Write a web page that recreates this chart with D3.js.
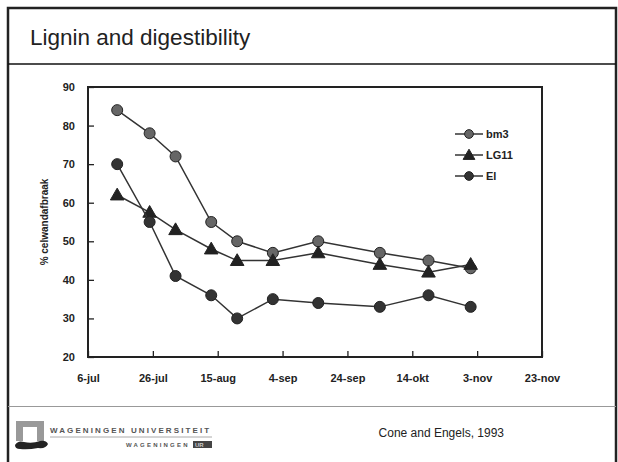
<!DOCTYPE html>
<html><head><meta charset="utf-8">
<script src="https://cdn.jsdelivr.net/npm/d3@7"></script>
<style>body{margin:0;background:#fff}svg{display:block}</style>
</head><body>
<svg id="c" width="618" height="462"></svg>
<script>
const sampleDates = ["1993-07-15","1993-07-25","1993-08-02","1993-08-13","1993-08-21","1993-09-01","1993-09-15","1993-10-04","1993-10-19","1993-11-01"];
const bm3  = [84, 78, 72, 55, 50, 47, 50, 47, 45, 43];
const LG11 = [62, 57.5, 53, 48, 45, 45, 47, 44, 42, 44];
const El   = [70, 55, 41, 36, 30, 35, 34, 33, 36, 33];
const xTickDates  = ["1993-07-06","1993-07-26","1993-08-15","1993-09-04","1993-09-24","1993-10-14","1993-11-03","1993-11-23"];
const xTickLabels = ["6-jul","26-jul","15-aug","4-sep","24-sep","14-okt","3-nov","23-nov"];
const yTicks = [20,30,40,50,60,70,80,90];

const parse = d3.timeParse("%Y-%m-%d");
const svg = d3.select("#c");
const F = "Liberation Sans, Arial, sans-serif";

// slide frame
svg.append("rect").attr("x",8).attr("y",8).attr("width",608).attr("height",460)
  .attr("fill","none").attr("stroke","#222").attr("stroke-width",2.5);
svg.append("line").attr("x1",8).attr("x2",616).attr("y1",64).attr("y2",64).attr("stroke","#111").attr("stroke-width",1.3);
svg.append("line").attr("x1",8).attr("x2",616).attr("y1",406.5).attr("y2",406.5).attr("stroke","#999").attr("stroke-width",1.2);
svg.append("text").attr("x",30).attr("y",45).attr("font-family",F).attr("font-size",22.5).attr("fill","#222").text("Lignin and digestibility");

// plot
const L=88,R=542,T=87,B=357;
const x = d3.scaleTime().domain([parse(xTickDates[0]), parse(xTickDates[xTickDates.length-1])]).range([L,R]);
const y = d3.scaleLinear().domain([20,90]).range([B,T]);

svg.append("rect").attr("x",L).attr("y",T).attr("width",R-L).attr("height",B-T)
  .attr("fill","none").attr("stroke","#222").attr("stroke-width",2);

const xAxis = d3.axisBottom(x).tickValues(xTickDates.map(parse))
  .tickFormat((d,i)=>xTickLabels[i]).tickSizeInner(-6).tickSizeOuter(0).tickPadding(17);
const gx = svg.append("g").attr("transform",`translate(0,${B})`).call(xAxis);
gx.select(".domain").remove();
gx.selectAll(".tick line").attr("stroke","#222").attr("stroke-width",1.3);
gx.selectAll("text").attr("font-family",F).attr("font-size",11).attr("font-weight","bold").attr("fill","#222");

const yAxis = d3.axisLeft(y).tickValues(yTicks).tickSizeInner(-6).tickSizeOuter(0).tickPadding(13);
const gy = svg.append("g").attr("transform",`translate(${L},0)`).call(yAxis);
gy.select(".domain").remove();
gy.selectAll(".tick line").attr("stroke","#222").attr("stroke-width",1.3);
gy.selectAll("text").attr("font-family",F).attr("font-size",11).attr("font-weight","bold").attr("fill","#222");

svg.append("text").attr("transform",`translate(48,${(T+B)/2}) rotate(-90)`).attr("text-anchor","middle")
  .attr("font-family",F).attr("font-size",10).attr("font-weight","bold").attr("fill","#222").text("% celwandafbraak");

const series = [
  {name:"bm3", vals:bm3, shape:"circle", fill:"#666"},
  {name:"LG11", vals:LG11, shape:"triangle", fill:"#222"},
  {name:"El", vals:El, shape:"circle", fill:"#333"}
];
const line = d3.line().x(d=>x(d.date)).y(d=>y(d.v));
const sym = {circle: d3.symbol().type(d3.symbolCircle).size(95), triangle: d3.symbol().type(d3.symbolTriangle).size(80)};
const symL = {circle: d3.symbol().type(d3.symbolCircle).size(60), triangle: d3.symbol().type(d3.symbolTriangle).size(60)};

series.forEach(s=>{
  const pts = sampleDates.map((d,i)=>({date:parse(d), v:s.vals[i]}));
  svg.append("path").datum(pts).attr("d",line).attr("fill","none").attr("stroke","#333").attr("stroke-width",1.5);
  svg.selectAll(null).data(pts).enter().append("path")
    .attr("d",sym[s.shape]).attr("transform",d=>`translate(${x(d.date)},${y(d.v)+(s.shape==="triangle"?1:0)})`)
    .attr("fill",s.fill).attr("stroke","#222").attr("stroke-width",1);
});

// legend
series.forEach((s,i)=>{
  const ly = 134 + i*21;
  svg.append("line").attr("x1",455).attr("x2",483).attr("y1",ly).attr("y2",ly).attr("stroke","#333").attr("stroke-width",1.5);
  svg.append("path").attr("d",symL[s.shape]).attr("transform",`translate(469,${ly+(s.shape==="triangle"?1:0)})`)
    .attr("fill",s.fill).attr("stroke","#222").attr("stroke-width",1);
  svg.append("text").attr("x",486).attr("y",ly+4).attr("font-family",F).attr("font-size",11).attr("font-weight","bold").attr("fill","#222").text(s.name);
});

// footer
svg.append("text").attr("x",504).attr("y",437).attr("text-anchor","end").attr("font-family",F).attr("font-size",12).attr("fill","#222").text("Cone and Engels, 1993");
// logo
const lg = svg.append("g");
lg.append("path").attr("d","M16,421 H44 V441 H37 V427 H23 V441 H16 Z").attr("fill","#999");
lg.append("path").attr("d","M15,445 Q18,440 24,442 Q32,444 40,441 Q46,440 48,444 Q46,449 38,448 Q28,450 20,449 Q15,449 15,445 Z").attr("fill","#222");
lg.append("text").attr("x",50).attr("y",433).attr("font-family",F).attr("font-size",8).attr("font-weight","bold")
  .attr("letter-spacing",2.1).attr("fill","#555").text("WAGENINGEN UNIVERSITEIT");
lg.append("line").attr("x1",50).attr("x2",212).attr("y1",437).attr("y2",437).attr("stroke","#aaa").attr("stroke-width",1);
lg.append("text").attr("x",126).attr("y",447).attr("font-family",F).attr("font-size",6).attr("font-weight","bold")
  .attr("letter-spacing",2.2).attr("fill","#555").text("WAGENINGEN");
lg.append("rect").attr("x",193).attr("y",441).attr("width",19).attr("height",7).attr("fill","#444");
lg.append("text").attr("x",195).attr("y",447).attr("font-family",F).attr("font-size",6).attr("font-weight","bold").attr("fill","#ccc").text("UR");
</script>
</body></html>
